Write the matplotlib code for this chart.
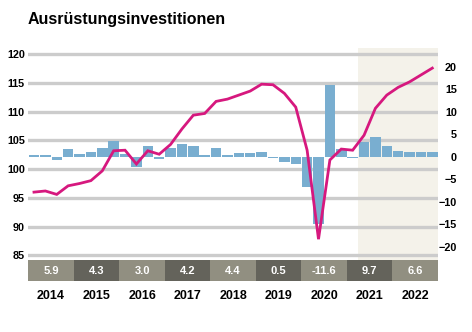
import matplotlib
matplotlib.use("Agg")
import matplotlib.pyplot as plt
import numpy as np

plt.rcParams['font.family'] = ['Liberation Sans', 'DejaVu Sans']
plt.rcParams['font.weight'] = 'bold'

years = [2014, 2015, 2016, 2017, 2018, 2019, 2020, 2021, 2022]
annual = [5.9, 4.3, 3.0, 4.2, 4.4, 0.5, -11.6, 9.7, 6.6]

# Veränderung gegenüber Vorquartal in % (rechte Achse)
qoq = [0.4, 0.5, -0.6, 1.8, 0.7, 1.0, 2.0, 3.6, 0.6, -2.2, 2.5, -0.4,
       2.0, 2.9, 2.4, 0.5, 2.0, 0.4, 0.9, 0.9, 1.1, -0.3, -1.2, -1.6,
       -6.8, -15.0, 16.0, 1.8, -0.3, 3.4, 4.3, 2.3, 1.3, 1.1, 1.1, 1.1]

# Index (linke Achse)
level = [96.0, 96.2, 95.6, 97.1, 97.5, 98.0, 99.7, 103.2, 103.3, 100.9, 103.2, 102.6,
         104.3, 107.0, 109.4, 109.7, 111.8, 112.2, 112.9, 113.6, 114.8, 114.7, 113.2, 110.8,
         103.3, 87.8, 101.6, 103.5, 103.3, 105.9, 110.6, 112.9, 114.25, 115.2, 116.4, 117.6]

forecast_start = 28.5

q = np.arange(len(qoq))
W, H = 472, 332

fig = plt.figure(figsize=(W / 100, H / 100), dpi=100)

x0, x1 = 28.3, 438
y_top, y_bot = 48, 260
ax = fig.add_axes([x0 / W, 1 - y_bot / H, (x1 - x0) / W, (y_bot - y_top) / H])

# Hintergrund: Raster, Prognosebereich, linke Achse
ax.set_xlim(-0.5, len(qoq) - 0.5)
ax.set_ylim(84.18, 121.1)
ax.axvspan(forecast_start, len(qoq) - 0.5, color='#f4f2ea', zorder=0, lw=0)
ax.set_yticks(np.arange(85, 121, 5))
ax.yaxis.grid(True, color='#cccccc', linewidth=2.4, zorder=1)
ax.set_axisbelow(True)
ax.set_xticks([])
ax.tick_params(axis='y', length=0, pad=2.5, labelsize=7.8)
for s in ax.spines.values():
    s.set_visible(False)

# Balken auf der rechten Achse
axb = ax.twinx()
axb.set_ylim(-22.93, 24.18)
axb.bar(q, qoq, width=0.92, color='#79aed0', zorder=2)
axb.set_yticks(np.arange(-20, 21, 5))
axb.tick_params(axis='y', length=0, pad=13.5, labelsize=7.8)
for lab in axb.get_yticklabels():
    lab.set_horizontalalignment('right')
for s in axb.spines.values():
    s.set_visible(False)

# Linie auf eigener Ebene über den Balken
axl = ax.twinx()
axl.set_ylim(ax.get_ylim())
axl.plot(q, level, color='#d6187e', linewidth=2.0, solid_joinstyle='miter', zorder=3)
axl.set_yticks([])
for s in axl.spines.values():
    s.set_visible(False)

# Jahresband unten
band_top, band_bot = 260, 281
axy = fig.add_axes([x0 / W, 1 - band_bot / H, (x1 - x0) / W, (band_bot - band_top) / H],
                   sharex=ax)
centers = [4 * i + 1.5 for i in range(len(years))]
colors = ['#918f81' if i % 2 == 0 else '#64635b' for i in range(len(years))]
axy.bar(centers, [1] * len(years), width=4, bottom=0, color=colors, lw=0)
axy.set_ylim(0, 1)
for c, v, yr in zip(centers, annual, years):
    axy.text(c, 0.5, f"{v:.1f}", color='white', ha='center', va='center',
             fontsize=8, fontweight='bold')
    axy.text(c, -0.72, str(yr), color='black', ha='center', va='center',
             fontsize=9, fontweight='bold', clip_on=False)
axy.set_xticks([])
axy.set_yticks([])
for s in axy.spines.values():
    s.set_visible(False)
axy.set_xlim(-0.5, len(qoq) - 0.5)

fig.text(28 / W, 1 - 24 / H, 'Ausrüstungsinvestitionen', fontsize=11.5,
         fontweight='bold', ha='left', va='baseline')

fig.savefig('out.png', dpi=100)
